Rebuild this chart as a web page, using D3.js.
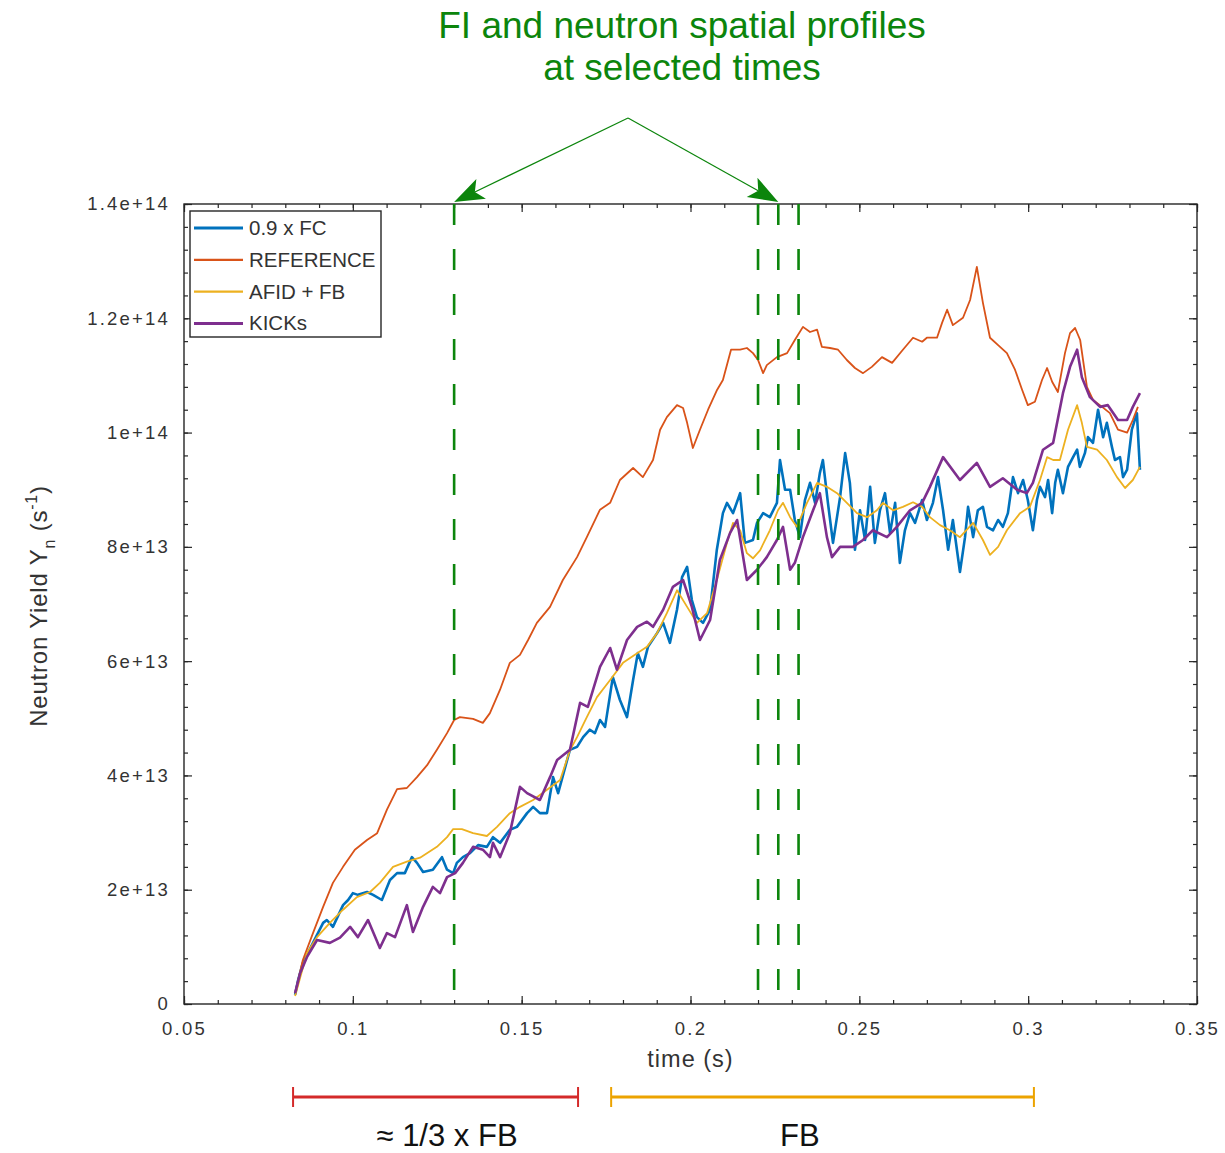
<!DOCTYPE html>
<html>
<head>
<meta charset="utf-8">
<script src="https://cdn.jsdelivr.net/npm/d3@7"></script>
<style>
  body { margin: 0; background: #fff; }
  svg text { font-family: "Liberation Sans", Arial, sans-serif; }
</style>
</head>
<body>
<div id="chart"></div>
<script>
// yields are stored in units of 1e13 s^-1
const UNIT = 1e13;

const fcTime = [0.0829,0.0838,0.0852,0.0882,0.0912,0.0923,0.0941,0.0971,0.0986,0.1000,
  0.1015,0.1042,0.1060,0.1086,0.1110,0.1131,0.1154,0.1175,0.1190,0.1208,
  0.1237,0.1264,0.1279,0.1297,0.1308,0.1326,0.1347,0.1371,0.1397,0.1415,
  0.1436,0.1465,0.1486,0.1516,0.1534,0.1554,0.1575,0.1593,0.1608,0.1643,
  0.1664,0.1682,0.1702,0.1717,0.1732,0.1747,0.1770,0.1791,0.1812,0.1830,
  0.1844,0.1859,0.1874,0.1901,0.1919,0.1939,0.1960,0.1975,0.1990,0.2004,
  0.2019,0.2037,0.2058,0.2078,0.2096,0.2108,0.2126,0.2147,0.2161,0.2185,
  0.2197,0.2215,0.2235,0.2256,0.2265,0.2280,0.2295,0.2309,0.2324,0.2339,
  0.2354,0.2369,0.2383,0.2392,0.2407,0.2422,0.2443,0.2458,0.2472,0.2487,
  0.2502,0.2517,0.2532,0.2546,0.2561,0.2576,0.2591,0.2606,0.2620,0.2635,
  0.2650,0.2665,0.2686,0.2700,0.2718,0.2733,0.2748,0.2763,0.2777,0.2798,
  0.2813,0.2822,0.2837,0.2851,0.2866,0.2878,0.2896,0.2911,0.2925,0.2940,
  0.2955,0.2970,0.2985,0.2999,0.3014,0.3026,0.3035,0.3050,0.3059,0.3071,
  0.3080,0.3088,0.3103,0.3118,0.3133,0.3145,0.3153,0.3168,0.3177,0.3192,
  0.3207,0.3222,0.3233,0.3248,0.3257,0.3272,0.3281,0.3293,0.3307,0.3322,
  0.3331];
const fcYield = [0.16,0.42,0.72,1.07,1.42,1.47,1.35,1.73,1.82,1.94,
  1.91,1.96,1.91,1.82,2.17,2.29,2.29,2.57,2.47,2.31,
  2.35,2.57,2.35,2.29,2.47,2.57,2.64,2.78,2.75,2.92,
  2.82,3.05,3.10,3.34,3.45,3.34,3.34,3.97,3.69,4.45,
  4.50,4.67,4.80,4.74,4.97,4.85,5.72,5.32,5.02,5.67,
  6.14,5.90,6.25,6.49,6.67,6.32,6.90,7.47,7.65,7.07,
  6.77,6.67,6.90,7.95,8.59,8.77,8.59,8.94,8.07,8.12,
  8.42,8.59,8.52,8.77,9.52,9.00,9.00,8.47,8.17,8.82,
  9.12,8.77,9.29,9.52,8.77,8.07,8.87,9.64,9.12,7.95,
  8.64,8.12,9.05,8.07,8.64,8.94,8.24,8.77,7.72,8.29,
  8.59,8.42,8.82,8.47,8.77,9.22,8.64,7.95,8.47,7.56,
  8.17,8.70,8.17,8.64,8.70,8.35,8.29,8.47,8.35,8.59,
  9.22,8.94,9.17,8.82,8.29,8.82,9.05,8.87,9.17,8.59,
  9.12,9.35,8.94,9.40,9.57,9.70,9.40,9.64,9.92,9.82,
  10.40,9.92,10.17,9.75,9.52,9.57,9.22,9.35,10.05,10.34,
  9.35];

const refTime = [0.0829,0.0852,0.0882,0.0912,0.0941,0.0971,0.1006,0.1042,0.1072,0.1101,
  0.1131,0.1160,0.1190,0.1220,0.1249,0.1279,0.1300,0.1317,0.1356,0.1385,
  0.1406,0.1436,0.1465,0.1495,0.1519,0.1545,0.1584,0.1622,0.1664,0.1693,
  0.1732,0.1762,0.1791,0.1830,0.1859,0.1889,0.1910,0.1930,0.1960,0.1978,
  0.1990,0.2007,0.2028,0.2052,0.2079,0.2096,0.2120,0.2147,0.2167,0.2185,
  0.2200,0.2215,0.2226,0.2256,0.2286,0.2309,0.2333,0.2354,0.2375,0.2389,
  0.2413,0.2437,0.2463,0.2487,0.2511,0.2537,0.2567,0.2597,0.2629,0.2659,
  0.2686,0.2700,0.2730,0.2745,0.2760,0.2777,0.2807,0.2828,0.2848,0.2866,
  0.2887,0.2911,0.2937,0.2961,0.2982,0.2999,0.3020,0.3041,0.3056,0.3071,
  0.3088,0.3109,0.3124,0.3139,0.3154,0.3174,0.3192,0.3219,0.3242,0.3266,
  0.3293,0.3310,0.3325];
const refYield = [0.19,0.77,1.24,1.70,2.12,2.40,2.70,2.87,2.99,3.40,
  3.76,3.78,3.97,4.18,4.45,4.74,4.97,5.02,4.99,4.92,
  5.09,5.50,5.97,6.11,6.37,6.67,6.95,7.42,7.82,8.17,
  8.65,8.77,9.17,9.38,9.22,9.52,10.05,10.27,10.48,10.43,
  10.17,9.73,10.05,10.40,10.75,10.92,11.45,11.45,11.48,11.39,
  11.27,11.04,11.18,11.32,11.39,11.62,11.85,11.76,11.80,11.50,
  11.48,11.45,11.27,11.13,11.04,11.15,11.32,11.22,11.45,11.66,
  11.59,11.66,11.66,11.92,12.15,11.88,12.01,12.32,12.90,12.27,
  11.66,11.53,11.39,11.10,10.75,10.48,10.54,10.92,11.13,10.89,
  10.71,11.39,11.74,11.83,11.62,10.80,10.57,10.45,10.34,10.05,
  10.00,10.22,10.45];

const afidTime = [0.0829,0.0864,0.0894,0.0932,0.0971,0.1012,0.1051,0.1080,0.1119,0.1160,
  0.1199,0.1249,0.1279,0.1297,0.1323,0.1356,0.1397,0.1427,0.1465,0.1495,
  0.1534,0.1575,0.1614,0.1643,0.1664,0.1693,0.1723,0.1762,0.1800,0.1842,
  0.1871,0.1901,0.1930,0.1960,0.1990,0.2019,0.2049,0.2078,0.2108,0.2126,
  0.2147,0.2167,0.2185,0.2206,0.2235,0.2259,0.2274,0.2295,0.2315,0.2345,
  0.2375,0.2404,0.2434,0.2463,0.2493,0.2523,0.2552,0.2570,0.2600,0.2629,
  0.2659,0.2686,0.2709,0.2739,0.2768,0.2798,0.2837,0.2866,0.2887,0.2911,
  0.2937,0.2976,0.3005,0.3035,0.3056,0.3074,0.3094,0.3118,0.3145,0.3159,
  0.3174,0.3204,0.3233,0.3263,0.3287,0.3310,0.3331];
const afidYield = [0.14,0.89,1.17,1.42,1.65,1.87,1.96,2.12,2.40,2.49,
  2.56,2.75,2.92,3.06,3.06,2.99,2.94,3.10,3.34,3.45,
  3.57,3.75,3.92,4.44,4.67,5.02,5.37,5.67,5.97,6.14,
  6.25,6.49,6.84,7.24,6.95,6.67,6.84,7.42,8.07,8.42,
  8.29,7.89,7.80,7.94,8.29,8.64,8.77,8.52,8.35,8.77,
  9.12,9.05,8.94,8.77,8.59,8.52,8.64,8.77,8.64,8.70,
  8.78,8.70,8.52,8.38,8.29,8.17,8.42,8.12,7.86,8.00,
  8.29,8.59,8.70,9.17,9.57,9.52,9.52,10.05,10.48,10.17,
  9.75,9.70,9.52,9.22,9.03,9.17,9.40];

const kicksTime = [0.0829,0.0844,0.0864,0.0894,0.0932,0.0962,0.0992,0.1015,0.1045,0.1080,
  0.1101,0.1125,0.1160,0.1178,0.1208,0.1237,0.1258,0.1279,0.1303,0.1326,
  0.1356,0.1385,0.1406,0.1415,0.1436,0.1465,0.1495,0.1516,0.1554,0.1584,
  0.1605,0.1643,0.1673,0.1696,0.1732,0.1762,0.1782,0.1812,0.1842,0.1871,
  0.1889,0.1919,0.1948,0.1978,0.2004,0.2028,0.2058,0.2087,0.2117,0.2138,
  0.2167,0.2197,0.2226,0.2256,0.2274,0.2295,0.2309,0.2333,0.2363,0.2383,
  0.2404,0.2419,0.2443,0.2481,0.2511,0.2540,0.2582,0.2611,0.2650,0.2686,
  0.2709,0.2748,0.2798,0.2848,0.2887,0.2925,0.2967,0.2996,0.3014,0.3044,
  0.3074,0.3103,0.3124,0.3145,0.3159,0.3183,0.3213,0.3236,0.3266,0.3293,
  0.3310,0.3331];
const kicksYield = [0.19,0.54,0.82,1.12,1.07,1.16,1.35,1.17,1.47,0.98,
  1.24,1.17,1.73,1.26,1.70,2.05,1.94,2.22,2.29,2.47,
  2.75,2.70,2.57,2.82,2.57,2.99,3.80,3.69,3.57,3.97,
  4.27,4.45,5.27,5.20,5.90,6.23,5.85,6.37,6.60,6.69,
  6.60,6.90,7.30,7.42,6.95,6.37,6.72,7.77,8.24,8.47,
  7.42,7.60,7.82,8.12,8.35,7.60,7.72,8.17,8.64,8.94,
  8.17,7.82,8.00,8.00,8.12,8.29,8.17,8.35,8.64,8.77,
  9.05,9.57,9.17,9.47,9.05,9.20,9.00,8.94,9.12,9.70,
  9.82,10.69,11.15,11.45,10.97,10.62,10.45,10.48,10.22,10.22,
  10.45,10.69];

const seriesNames = ['0.9 x FC', 'REFERENCE', 'AFID + FB', 'KICKs'];
const xTicks = [0.05, 0.1, 0.15, 0.2, 0.25, 0.3, 0.35];
const xTickLabels = ['0.05', '0.1', '0.15', '0.2', '0.25', '0.3', '0.35'];
const yTicks = [0, 2e13, 4e13, 6e13, 8e13, 1e14, 1.2e14, 1.4e14];
const yTickLabels = ['0', '2e+13', '4e+13', '6e+13', '8e+13', '1e+14', '1.2e+14', '1.4e+14'];
const profileTimes = [0.13, 0.22, 0.226, 0.232];
const titleLines = ['FI and neutron spatial profiles', 'at selected times'];
const phaseLabels = ['\u2248 1/3 x FB', 'FB'];
const phaseStart = [0.0823, 0.1765];
const phaseEnd = [0.1667, 0.3017];
const phaseLabelAt = [0.1279, 0.2324];

const chart = {
  width: 1225,
  height: 1153,
  margin: { top: 204, right: 28, bottom: 149, left: 184 },
  colors: ['#0072bd', '#d95319', '#edb120', '#7e2f8e'],
  widths: [2.6, 1.8, 1.8, 2.6],
  green: '#0c850c',
  phaseColors: ['#d42a2a', '#eca300'],

  init() {
    this.svg = d3.select('#chart').append('svg')
      .attr('width', this.width)
      .attr('height', this.height);

    const m = this.margin;
    this.x = d3.scaleLinear([0.05, 0.35], [m.left, this.width - m.right]);
    this.y = d3.scaleLinear([0, 1.4e14], [this.height - m.bottom, m.top]);

    this.series = [
      d3.zip(fcTime, fcYield),
      d3.zip(refTime, refYield),
      d3.zip(afidTime, afidYield),
      d3.zip(kicksTime, kicksYield)
    ];

    this.drawAxes();
    this.drawLines();
    this.drawProfiles();
    this.drawLegend();
    this.drawTitle();
    this.drawPhases();
  },

  drawAxes() {
    const { x, y, svg } = this;
    const x0 = x.range()[0], x1 = x.range()[1];
    const y0 = y.range()[0], y1 = y.range()[1];
    const minorX = d3.range(0.05, 0.3501, 0.01);
    const minorY = d3.range(0, 1.4e14 + 1, 4e12);

    const style = (g) => {
      g.select('.domain').remove();
      g.selectAll('line').attr('stroke', '#262626').attr('stroke-width', 1.2);
      g.selectAll('text')
        .attr('fill', '#333')
        .attr('font-size', 18.5)
        .attr('letter-spacing', 2.2);
    };

    // bottom
    svg.append('g').attr('transform', `translate(0,${y0})`)
      .call(d3.axisBottom(x).tickValues(minorX).tickSizeInner(-4).tickSizeOuter(0).tickFormat(''))
      .call(style);
    svg.append('g').attr('transform', `translate(0,${y0})`)
      .call(d3.axisBottom(x).tickValues(xTicks).tickSizeInner(-8).tickSizeOuter(0)
        .tickPadding(18).tickFormat((d, i) => xTickLabels[i]))
      .call(style);
    // top
    svg.append('g').attr('transform', `translate(0,${y1})`)
      .call(d3.axisTop(x).tickValues(minorX).tickSizeInner(-4).tickSizeOuter(0).tickFormat(''))
      .call(style);
    svg.append('g').attr('transform', `translate(0,${y1})`)
      .call(d3.axisTop(x).tickValues(xTicks).tickSizeInner(-8).tickSizeOuter(0).tickFormat(''))
      .call(style);
    // left
    svg.append('g').attr('transform', `translate(${x0},0)`)
      .call(d3.axisLeft(y).tickValues(minorY).tickSizeInner(-4).tickSizeOuter(0).tickFormat(''))
      .call(style);
    svg.append('g').attr('transform', `translate(${x0},0)`)
      .call(d3.axisLeft(y).tickValues(yTicks).tickSizeInner(-8).tickSizeOuter(0)
        .tickPadding(14).tickFormat((d, i) => yTickLabels[i]))
      .call(style);
    // right
    svg.append('g').attr('transform', `translate(${x1},0)`)
      .call(d3.axisRight(y).tickValues(minorY).tickSizeInner(-4).tickSizeOuter(0).tickFormat(''))
      .call(style);
    svg.append('g').attr('transform', `translate(${x1},0)`)
      .call(d3.axisRight(y).tickValues(yTicks).tickSizeInner(-8).tickSizeOuter(0).tickFormat(''))
      .call(style);

    svg.append('rect')
      .attr('x', x0).attr('y', y1)
      .attr('width', x1 - x0).attr('height', y0 - y1)
      .attr('fill', 'none')
      .attr('stroke', '#262626')
      .attr('stroke-width', 1.4);

    svg.append('text')
      .attr('x', (x0 + x1) / 2)
      .attr('y', y0 + 63)
      .attr('text-anchor', 'middle')
      .attr('fill', '#333')
      .attr('font-size', 23.5)
      .attr('letter-spacing', 1)
      .text('time (s)');

    const label = svg.append('text')
      .attr('transform', `translate(47,${(y0 + y1) / 2 + 2}) rotate(-90)`)
      .attr('text-anchor', 'middle')
      .attr('fill', '#333')
      .attr('font-size', 24)
      .attr('letter-spacing', 0.8);
    label.append('tspan').text('Neutron Yield Y');
    label.append('tspan').attr('font-size', 16).attr('dy', 8).text('n');
    label.append('tspan').attr('dy', -8).text(' (s');
    label.append('tspan').attr('font-size', 16).attr('dy', -10).text('-1');
    label.append('tspan').attr('dy', 10).text(')');
  },

  drawLines() {
    const line = d3.line()
      .x((d) => this.x(d[0]))
      .y((d) => this.y(d[1] * UNIT));

    this.series.forEach((data, i) => {
      this.svg.append('path')
        .datum(data)
        .attr('d', line)
        .attr('fill', 'none')
        .attr('stroke', this.colors[i])
        .attr('stroke-width', this.widths[i])
        .attr('stroke-linejoin', 'round');
    });
  },

  drawProfiles() {
    const [y0, y1] = this.y.range();
    this.svg.append('g')
      .selectAll('line')
      .data(profileTimes)
      .join('line')
      .attr('x1', (d) => this.x(d))
      .attr('x2', (d) => this.x(d))
      .attr('y1', y1)
      .attr('y2', y0)
      .attr('stroke', this.green)
      .attr('stroke-width', 2.6)
      .attr('stroke-dasharray', '21 24');
  },

  drawLegend() {
    const left = this.x.range()[0] + 6;
    const top = this.y.range()[1] + 7;
    const g = this.svg.append('g').attr('transform', `translate(${left},${top})`);

    g.append('rect')
      .attr('width', 191).attr('height', 126)
      .attr('fill', '#fff')
      .attr('stroke', '#262626')
      .attr('stroke-width', 1.4);

    seriesNames.forEach((name, i) => {
      const cy = 17 + i * 31.8;
      g.append('line')
        .attr('x1', 4).attr('x2', 53)
        .attr('y1', cy).attr('y2', cy)
        .attr('stroke', this.colors[i])
        .attr('stroke-width', this.widths[i] + 0.4);
      g.append('text')
        .attr('x', 59).attr('y', cy + 7)
        .attr('fill', '#333')
        .attr('font-size', 20.5)
        .attr('letter-spacing', 0)
        .text(name);
    });
  },

  arrowHead(from, tip, len, half, notch) {
    const dx = tip[0] - from[0], dy = tip[1] - from[1];
    const d = Math.hypot(dx, dy);
    const ux = dx / d, uy = dy / d;
    const bx = tip[0] - ux * len, by = tip[1] - uy * len;
    const nx = -uy, ny = ux;
    return {
      points: [
        tip,
        [bx + nx * half, by + ny * half],
        [tip[0] - ux * (len - notch), tip[1] - uy * (len - notch)],
        [bx - nx * half, by - ny * half]
      ],
      neck: [tip[0] - ux * (len - notch), tip[1] - uy * (len - notch)]
    };
  },

  drawTitle() {
    const cx = 682;
    this.svg.append('g')
      .selectAll('text')
      .data(titleLines)
      .join('text')
      .attr('x', cx)
      .attr('y', (d, i) => 38 + i * 42)
      .attr('text-anchor', 'middle')
      .attr('fill', this.green)
      .attr('font-size', 37)
      .text((d) => d);

    const apex = [this.x(0.1815), 118];
    const tipY = this.y.range()[1] - 2;
    const tips = [[this.x(profileTimes[0]), tipY], [this.x(profileTimes[2]), tipY]];

    tips.forEach((tip) => {
      const head = this.arrowHead(apex, tip, 30, 11, 7);
      this.svg.append('line')
        .attr('x1', apex[0]).attr('y1', apex[1])
        .attr('x2', head.neck[0]).attr('y2', head.neck[1])
        .attr('stroke', this.green)
        .attr('stroke-width', 1.2);
      this.svg.append('path')
        .attr('d', 'M' + head.points.join('L') + 'Z')
        .attr('fill', this.green);
    });
  },

  drawPhases() {
    const barY = this.y.range()[0] + 93;
    const g = this.svg.append('g');

    phaseLabels.forEach((label, i) => {
      const a = this.x(phaseStart[i]);
      const b = this.x(phaseEnd[i]);
      const color = this.phaseColors[i];
      g.append('line')
        .attr('x1', a).attr('x2', b)
        .attr('y1', barY).attr('y2', barY)
        .attr('stroke', color).attr('stroke-width', 3.2);
      [a, b].forEach((px) => {
        g.append('line')
          .attr('x1', px).attr('x2', px)
          .attr('y1', barY - 10).attr('y2', barY + 10)
          .attr('stroke', color).attr('stroke-width', 2);
      });
      g.append('text')
        .attr('x', this.x(phaseLabelAt[i]))
        .attr('y', barY + 49)
        .attr('text-anchor', 'middle')
        .attr('fill', '#111')
        .attr('font-size', 31)
        .text(label);
    });
  }
};

chart.init();
</script>
</body>
</html>
